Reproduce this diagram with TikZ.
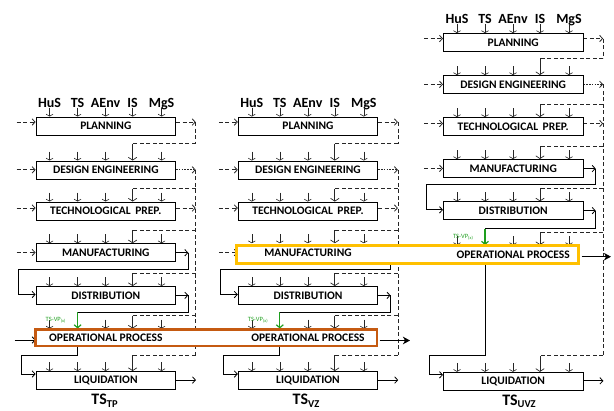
\documentclass[tikz,border=0pt]{standalone}
\usepackage{fontspec}
\setmainfont{Carlito}
\usetikzlibrary{arrows.meta,calc}
\pgfdeclarelayer{back}
\pgfdeclarelayer{hl}
\pgfsetlayers{back,hl,main}

\definecolor{hlorange}{HTML}{C55A11}
\definecolor{hlyellow}{HTML}{FFC000}
\definecolor{vpgreen}{HTML}{1E9E1E}
\definecolor{ink}{HTML}{262626}

\tikzset{
  box/.style={draw=black, line width=0.9pt, minimum width=139.5pt, minimum height=18pt,
    inner sep=0pt, font=\bfseries\fontsize{11.5}{11.5}\selectfont},
  toplab/.style={anchor=base, inner sep=0pt, font=\bfseries\fontsize{14}{14}\selectfont},
  tick/.style={draw=ink, line width=0.6pt, -{Straight Barb[length=2pt,width=7pt]}},
  feed/.style={draw=ink, line width=0.7pt, -{Straight Barb[length=2.8pt,width=8.5pt]}},
  outarr/.style={-{Straight Barb[length=3pt,width=6.5pt]}},
  wire/.style={draw=black, line width=0.8pt},
  dsh/.style={draw=ink, line width=0.8pt, dash pattern=on 4pt off 2.5pt},
  dtt/.style={draw=ink, line width=0.8pt, dash pattern=on 1.6pt off 1.2pt},
  hlbox/.style={line width=2.7pt, fill=white, inner sep=0pt},
  bigarr/.style={draw=black, line width=1.3pt, -{Stealth[length=7pt,width=7.5pt,inset=2pt]}},
  vparr/.style={draw=vpgreen, line width=1.2pt, -{Straight Barb[length=3pt,width=7pt]}},
  vplab/.style={text=vpgreen, inner sep=0pt, anchor=base, font=\fontsize{6.5}{6.5}\selectfont},
  tslab/.style={anchor=base, inner sep=0pt, font=\bfseries}
}

% Wiring of one life-cycle column whose boxes are #11 ... #17
\newcommand\tsconn[1]{%
  \coordinate (#1bus) at ($(#11.east)+(19.7,0)$);
  % subsystem labels over the first stage
  \foreach \dx/\tx in {14/HuS,42/TS,70/AEnv,97/IS,126/MgS}
    \node[toplab] (#1lab\tx) at ($(#11.north west)+(\dx,-9.5)$) {\tx};
  % short input ticks above every stage
  \foreach \rw in {1,...,7}{
    \foreach \dx [count=\kk] in {14,42,70,97,126}{
      \pgfmathtruncatemacro\tsomit{(\rw>1 && \kk==4) || (\rw==6 && \kk==2)}
      \ifnum\tsomit=0
        \draw[tick] ($(#1\rw.north west)+(\dx,-9)$) -- ($(#1\rw.north west)+(\dx,0)$);
      \fi
    }
  }
  % feedback branches from the dashed bus
  \foreach \rw/\dy in {2/17,3/13,4/13,5/13,6/13,7/16}{
    \coordinate (#1f\rw) at ($(#1\rw.north west)+(97,-\dy)$);
    \draw[dsh] (#1bus |- #1f\rw) -- (#1f\rw);
    \draw[feed] (#1f\rw) -- ($(#1\rw.north west)+(97,0)$);
  }
  % outputs of the first three stages
  \coordinate (#1o1) at ($(#11.north east)+(0,5.5)$);
  \draw[dsh,outarr] (#1o1) -- (#1bus |- #1o1);
  \draw[dsh] (#1bus |- #1o1) -- (#1bus |- #1f2);
  \coordinate (#1o2) at ($(#12.north east)+(0,9.3)$);
  \draw[dtt,outarr] (#1o2) -- (#1bus |- #1o2);
  \draw[dsh] (#1bus |- #1o2) -- (#1bus |- #1f7);
  \coordinate (#1o3) at ($(#13.north east)+(0,6.5)$);
  \draw[dsh,outarr] (#1o3) -- (#1bus |- #1o3);
  % manufacturing feeds distribution
  \coordinate (#1o4) at ($(#14.north east)+(0,9.5)$);
  \coordinate (#1r4) at ($(#1o4)+(12.3,0)$);
  \draw[wire,outarr] (#1o4) -- (#1r4);
  \coordinate (#1i5) at ($(#15.north west)+(-17,8.5)$);
  \draw[wire,outarr] (#1r4) -- ($(#1r4 |- #15.north)+(0,-17)$)
    -- ($(#1i5 |- #15.north)+(0,-17)$) -- (#1i5) -- (#15.west |- #1i5);
  % distribution feeds the operational process
  \coordinate (#1o5) at ($(#15.north east)+(0,9.3)$);
  \coordinate (#1r5) at ($(#1o5)+(12.3,0)$);
  \draw[wire,outarr] (#1o5) -- (#1r5);
  \coordinate (#1g) at ($(#16.north west)+(42,-16.3)$);
  \draw[wire] (#1r5) -- (#1r5 |- #1g) -- (#1g);
  \draw[vparr] (#1g) -- ($(#16.north west)+(42,0)$);
  \node[vplab] (#1vp) at ($(#16.north west)+(20,-7)$)
    {TS-VP\raisebox{-1.2pt}{\fontsize{4.5}{4.5}\selectfont(x)}};
  % operational process feeds liquidation
  \coordinate (#1d6) at ($(#16.south west)+(42,0)$);
  \coordinate (#1i7) at ($(#17.north west)+(-14,3)$);
  \draw[wire,outarr] (#1d6) -- ($(#1d6 |- #17.north)+(0,-16)$)
    -- ($(#1i7 |- #17.north)+(0,-16)$) -- (#1i7) -- (#17.west |- #1i7);
  \coordinate (#1e7) at ($(#17.north east)+(20,9)$);
  \draw[wire,outarr] ($(#17.north east)+(0,9)$) -- (#1e7);
  % external inputs of the first four stages
  \foreach \rw/\dy in {1/5.5,2/9.3,3/6.5,4/9.3}{
    \coordinate (#1in\rw) at ($(#1\rw.north west)+(-19,\dy)$);
    \draw[dsh,outarr] (#1in\rw) -- (#1\rw.west |- #1in\rw);
  }
}

\begin{document}
\begin{tikzpicture}[x=1pt,y=-1pt]
\useasboundingbox (0,0) rectangle (614,411);

% column TS_TP
\node[box] (A1) at (105.8,126) {PLANNING};
\node[box] (A2) at (105.8,170) {DESIGN ENGINEERING};
\node[box] (A3) at (105.8,211) {TECHNOLOGICAL\, PREP.};
\node[box] (A4) at (105.8,252.7) {MANUFACTURING};
\node[box] (A5) at (105.8,295.5) {DISTRIBUTION};
\node[box,draw=none] (A6) at (105.8,338) {OPERATIONAL PROCESS};
\node[box] (A7) at (105.8,380.5) {LIQUIDATION};

% column TS_VZ
\node[box] (B1) at (308,126) {PLANNING};
\node[box] (B2) at (308,170) {DESIGN ENGINEERING};
\node[box] (B3) at (308,211) {TECHNOLOGICAL\, PREP.};
\node[box,draw=none] (B4) at (308,252.7) {MANUFACTURING};
\node[box] (B5) at (308,295.5) {DISTRIBUTION};
\node[box,draw=none] (B6) at (308,338) {OPERATIONAL PROCESS};
\node[box] (B7) at (308,380.5) {LIQUIDATION};

% column TS_UVZ
\node[box] (C1) at (513.2,42.5) {PLANNING};
\node[box] (C2) at (513.2,84.5) {DESIGN ENGINEERING};
\node[box] (C3) at (513.2,126.5) {TECHNOLOGICAL\, PREP.};
\node[box] (C4) at (513.2,168.5) {MANUFACTURING};
\node[box] (C5) at (513.2,210.8) {DISTRIBUTION};
\node[box,draw=none] (C6) at (513.2,254.5) {OPERATIONAL PROCESS};
\node[box] (C7) at (513.2,381.3) {LIQUIDATION};

\begin{pgfonlayer}{back}
  \tsconn{A}
  \tsconn{B}
  \tsconn{C}
  \coordinate (A6in) at ($(A6.west)+(-21,2)$);
  \draw[wire,outarr] (A6in) -- (A6.west |- A6in);
\end{pgfonlayer}

% highlighted stages
\begin{pgfonlayer}{hl}
  \node[hlbox, draw=hlorange, minimum width=341.4pt, minimum height=16.6pt] (hlOp) at (206.3,337.8) {};
  \node[hlbox, draw=hlyellow, minimum width=342.3pt, minimum height=18.2pt] (hlMf) at (407.6,254.6) {};
\end{pgfonlayer}

\coordinate (opEnd) at (410,340.5);
\draw[bigarr, shorten <=1.3pt] (hlOp.east |- opEnd) -- (opEnd);
\coordinate (mfEnd) at (611,256.7);
\draw[bigarr, shorten <=1.4pt] (hlMf.east |- mfEnd) -- (mfEnd);

% column titles
\node[tslab] (tsA) at (104.5,405) {{\fontsize{16}{16}\selectfont TS}\raisebox{-2.5pt}{\fontsize{10.5}{10.5}\selectfont TP}};
\node[tslab] (tsB) at (306,405) {{\fontsize{16}{16}\selectfont TS}\raisebox{-2.5pt}{\fontsize{10.5}{10.5}\selectfont VZ}};
\node[tslab] (tsC) at (519,405.5) {{\fontsize{16}{16}\selectfont TS}\raisebox{-2.3pt}{\fontsize{10.5}{10.5}\selectfont UVZ}};
\end{tikzpicture}
\end{document}
